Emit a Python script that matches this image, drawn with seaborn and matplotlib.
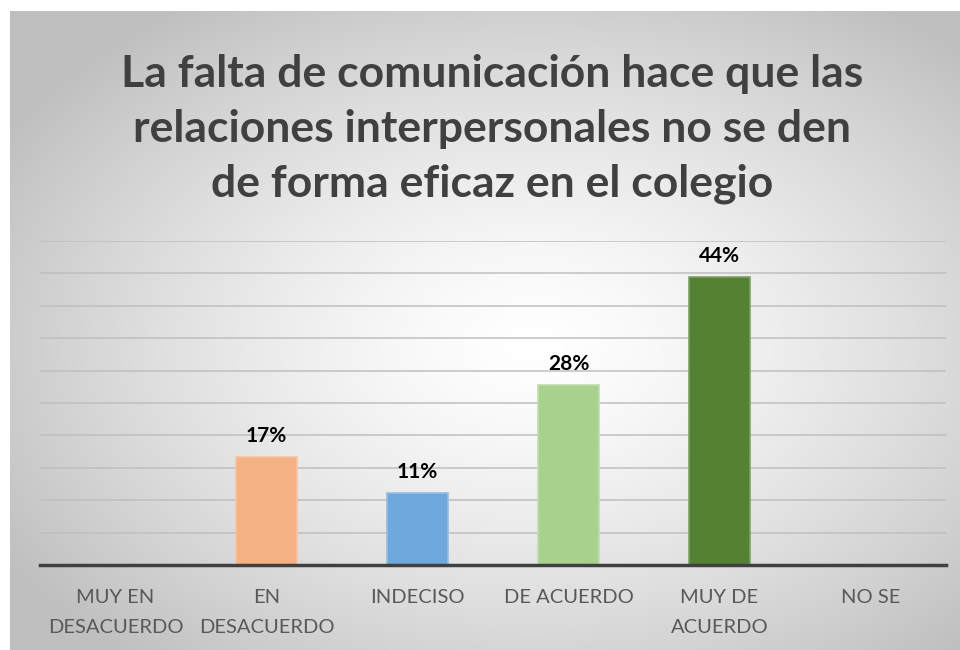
#%% packages
import numpy as np
import pandas as pd
import seaborn as sns
import matplotlib.pyplot as plt
import matplotlib.colors as mcolors

#%% data
categories = ["MUY EN\nDESACUERDO", "EN\nDESACUERDO", "INDECISO", "DE ACUERDO", "MUY DE\nACUERDO", "NO SE"]
values = [0, 16.7, 11.1, 27.8, 44.4, 0]
bar_colors = ["#5B9BD5", "#F4B183", "#6FA8DC", "#A9D18E", "#548235", "#A5A5A5"]
title = "La falta de comunicación hace que las\nrelaciones interpersonales no se den\nde forma eficaz en el colegio"

df = pd.DataFrame({"categoria": categories, "porcentaje": values})

#%% figure
sns.set_theme(style="white")
plt.rcParams["font.family"] = ["Lato", "DejaVu Sans"]

fig = plt.figure(figsize=(9.6, 6.5), dpi=100)

# radial gradient background of the chart area
bg = fig.add_axes([10 / 960, 0, 950 / 960, 639 / 650])
yy, xx = np.mgrid[-1:1:300j, -1:1:450j]
r = np.clip(np.sqrt((xx - 0.1) ** 2 + (yy - 0.05) ** 2) / 1.3, 0, 1)
shade = 1 - 0.25 * r ** 1.4
bg.imshow(np.dstack([shade] * 3), aspect="auto", extent=[0, 1, 0, 1])
bg.set_axis_off()

ax = fig.add_axes([40 / 960, 85 / 650, 906 / 960, 324 / 650])
ax.patch.set_alpha(0)

sns.barplot(data=df, x="categoria", y="porcentaje", hue="categoria",
            palette=bar_colors, width=0.4, legend=False, ax=ax,
            linewidth=1.2, saturation=1)
# slightly lighter outline like the office style
for p, c in zip(ax.patches, bar_colors):
    rgb = np.array(mcolors.to_rgb(c))
    p.set_edgecolor(rgb + (1 - rgb) * 0.25)

ax.set_ylim(0, 50)
ax.set_xlim(-0.5, 5.5)
ax.set_yticks(np.arange(0, 51, 5))
ax.yaxis.grid(True, color="#bfbfbf", linewidth=1.1)
ax.set_axisbelow(True)
ax.set_yticklabels([])
ax.tick_params(axis="y", length=0)
ax.set_xticks(range(len(categories)))
ax.set_xticklabels(categories, linespacing=1.95)
ax.tick_params(axis="x", length=0, pad=17, labelsize=14.5, labelcolor="#595959")
ax.set_xlabel("")
ax.set_ylabel("")
for s in ["top", "right", "left"]:
    ax.spines[s].set_visible(False)
ax.spines["bottom"].set_color("#404040")
ax.spines["bottom"].set_linewidth(2.5)
ax.spines["bottom"].set_zorder(5)

for cont in ax.containers:
    labels = [f"{v:.0f}%" if v > 0 else "" for v in cont.datavalues]
    ax.bar_label(cont, labels=labels, padding=8, fontsize=15, fontweight="bold", color="black")

fig.text(492 / 960, 1 - 129 / 650, title, ha="center", va="center",
         fontsize=32, fontweight="bold", color="#404040", linespacing=1.45)

fig.savefig("out.png", dpi=100)
